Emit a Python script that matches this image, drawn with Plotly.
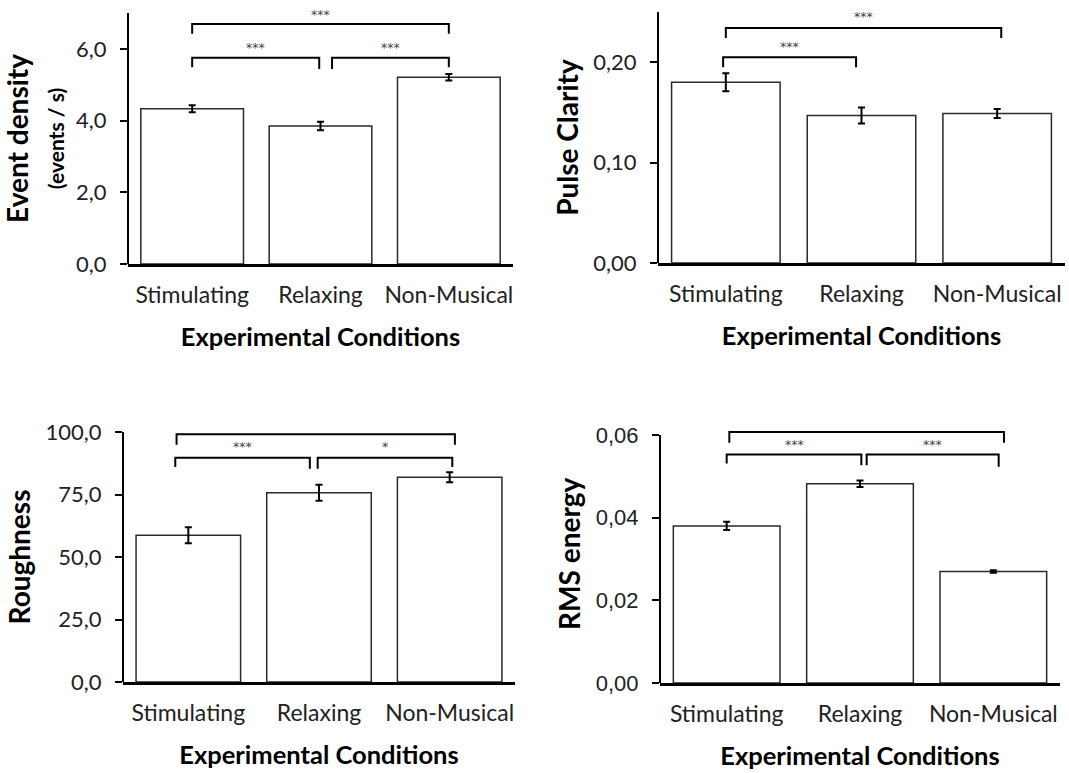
import plotly.graph_objects as go

# ---------------- data ----------------
categories = ["Stimulating", "Relaxing", "Non-Musical"]
cat_pos = [0, 1, 2]

event_density = [4.33, 3.85, 5.21]
event_density_err = [0.10, 0.12, 0.09]

pulse_clarity = [0.180, 0.147, 0.149]
pulse_clarity_err = [0.009, 0.008, 0.0045]

roughness = [58.7, 75.7, 81.9]
roughness_err = [3.2, 3.2, 2.0]

rms_energy = [0.0380, 0.0482, 0.0270]
rms_energy_err = [0.0010, 0.0008, 0.0003]

# significance brackets: (x_start, x_end, bar_y, left_leg_y, right_leg_y, star_y, label)
event_brackets = [
    (0.00, 2.00, 6.69, 6.42, 6.42, 6.97, "***"),
    (0.00, 0.99, 5.75, 5.49, 5.44, 6.05, "***"),
    (1.09, 2.00, 5.75, 5.44, 5.49, 6.05, "***"),
]
pulse_brackets = [
    (0.00, 2.03, 0.234, 0.224, 0.224, 0.246, "***"),
    (-0.02, 0.96, 0.205, 0.195, 0.195, 0.216, "***"),
]
rough_brackets = [
    (-0.09, 2.04, 99.1, 94.9, 94.9, 103.0, "***"),
    (-0.10, 0.93, 89.7, 86.0, 85.3, 94.3, "***"),
    (0.99, 2.02, 89.7, 85.3, 86.0, 94.3, "*"),
]
rms_brackets = [
    (0.02, 2.08, 0.0607, 0.0581, 0.0581, 0.0630, "***"),
    (0.00, 1.01, 0.0553, 0.0531, 0.0527, 0.0577, "***"),
    (1.05, 2.04, 0.0553, 0.0527, 0.0523, 0.0577, "***"),
]

W, H = 1069, 773

# layout of panels (pixel frame of each chart)
panels = [
    dict(vals=event_density, err=event_density_err, br=event_brackets, ax="", axis_top=7.0, range_top=7.0,
         dt=2, fmt=".1f",
         title="Event density<br><span style='font-size:21px'>(events / s)</span>",
         px_x=(128, 513), px_y=(264, 13), tickfont="Lato", ticksize=22),
    dict(vals=pulse_clarity, err=pulse_clarity_err, br=pulse_brackets, ax="2", axis_top=0.25, range_top=0.25,
         dt=0.1, fmt=".2f", title="Pulse Clarity",
         px_x=(658, 1065), px_y=(263, 12), tickfont="Lato", ticksize=22),
    dict(vals=roughness, err=roughness_err, br=rough_brackets, ax="3", axis_top=100, range_top=100,
         dt=25, fmt=".1f", title="Roughness",
         px_x=(123, 515), px_y=(682, 432), tickfont="Lato", ticksize=22),
    dict(vals=rms_energy, err=rms_energy_err, br=rms_brackets, ax="4", axis_top=0.06, range_top=0.0625,
         dt=0.02, fmt=".2f", title="RMS energy",
         px_x=(660, 1060), px_y=(683, 435), tickfont="Liberation Sans", ticksize=22),
]

fig = go.Figure()
annotations = []
shapes = []
layout_axes = {}

for p in panels:
    xa = "x" + p["ax"]
    ya = "y" + p["ax"]
    key = p["ax"]
    pb, pt = p["px_y"]
    top_px = pb - (pb - pt) * p["range_top"] / p["axis_top"]
    xd = [p["px_x"][0] / W, p["px_x"][1] / W]
    yd = [1 - pb / H, 1 - top_px / H]

    fig.add_trace(go.Bar(
        x=cat_pos, y=p["vals"], xaxis=xa, yaxis=ya,
        marker=dict(color="white", line=dict(color="#2a2a2a", width=1.5)),
        error_y=dict(type="data", array=p["err"], visible=True, color="black", thickness=2, width=3.5),
        showlegend=False, hoverinfo="skip",
    ))
    for (x0, x1, yb, yl, yr_, ys, lab) in p["br"]:
        fig.add_trace(go.Scatter(
            x=[x0, x0, x1, x1], y=[yl, yb, yb, yr_], xaxis=xa, yaxis=ya,
            mode="lines", line=dict(color="black", width=2),
            showlegend=False, hoverinfo="skip",
        ))
        annotations.append(dict(
            x=(x0 + x1) / 2, y=ys, xref=xa, yref=ya, text=lab, showarrow=False,
            font=dict(family="DejaVu Sans", size=12.5, color="#444"), yanchor="middle",
        ))
    # vertical axis line from 0 up to the axis top (paper-referenced, so it is not clipped)
    y_axis_top = yd[0] + (yd[1] - yd[0]) * p["axis_top"] / p["range_top"]
    shapes.append(dict(type="line", xref="paper", yref="paper", x0=xd[0], x1=xd[0],
                       y0=yd[0], y1=y_axis_top, line=dict(color="black", width=2), layer="above"))

    layout_axes["xaxis" + key] = dict(
        domain=xd, anchor=ya, range=[-0.5, 2.5],
        tickvals=cat_pos, ticktext=categories,
        showline=True, linecolor="black", linewidth=2.5, ticks="",
        showgrid=False, zeroline=False, automargin=False,
        tickfont=dict(family="Lato", size=23, color="#222"),
        ticklabelstandoff=9,
        title=dict(text="<b>Experimental Conditions</b>", font=dict(family="Lato", size=25.5, color="black"),
                   standoff=21),
    )
    layout_axes["yaxis" + key] = dict(
        domain=yd, anchor=xa, range=[0, p["range_top"]], dtick=p["dt"], tick0=0,
        tickformat=p["fmt"],
        showline=False, ticks="outside", ticklen=7,
        tickwidth=2, tickcolor="black",
        showgrid=False, zeroline=False, automargin=False,
        tickfont=dict(family=p["tickfont"], size=p["ticksize"], color="#222"),
        ticklabelstandoff=9,
        title=dict(text="<b>" + p["title"] + "</b>", font=dict(family="Lato", size=28, color="black"),
                   standoff=6),
    )

fig.update_layout(
    width=W, height=H,
    margin=dict(l=0, r=0, t=0, b=0),
    paper_bgcolor="white", plot_bgcolor="white",
    separators=", ",
    bargap=0.2,
    annotations=annotations,
    shapes=shapes,
    **layout_axes,
)

fig.write_html("out.html", config={"displayModeBar": False},
               post_script="document.body.style.margin='0';")
